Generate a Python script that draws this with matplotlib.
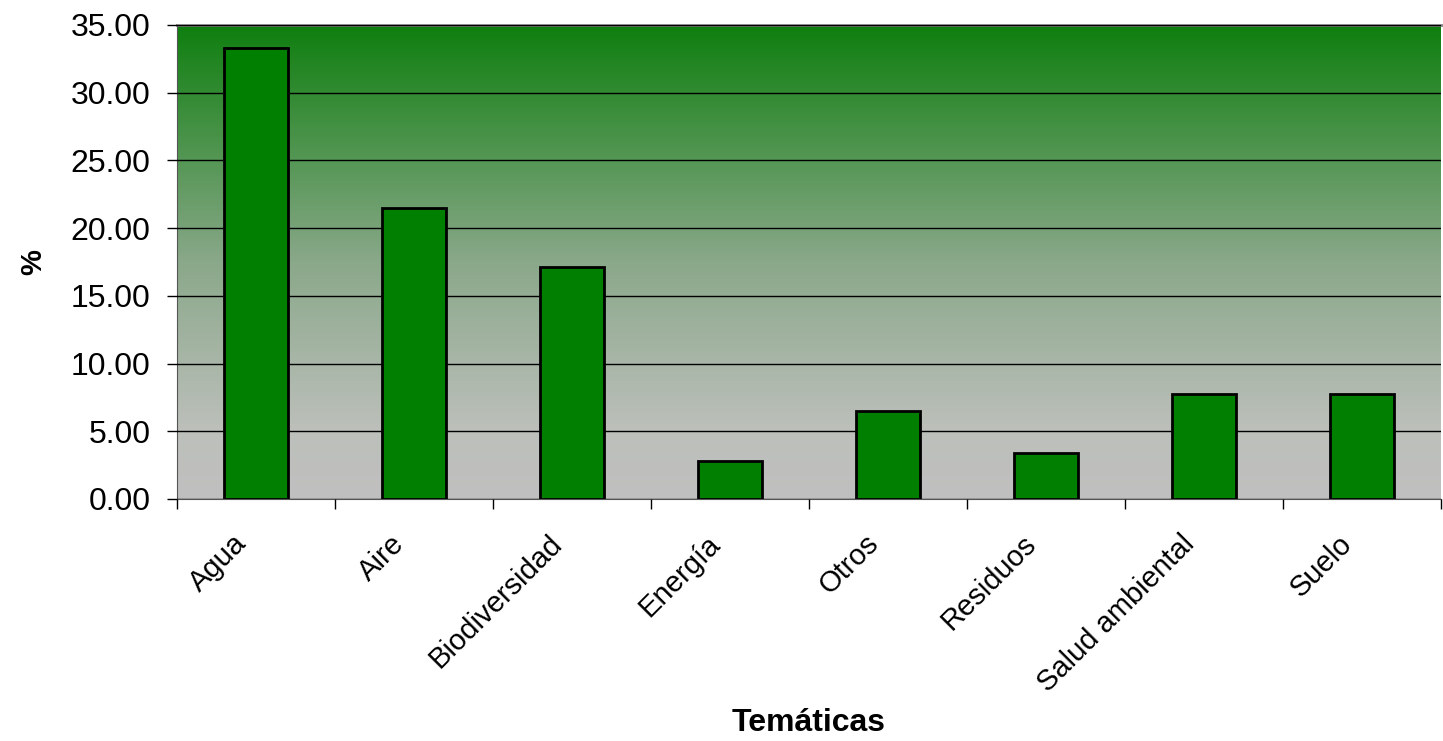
import numpy as np
import matplotlib.pyplot as plt
from matplotlib.colors import LinearSegmentedColormap

categorias = ["Agua", "Aire", "Biodiversidad", "Energía", "Otros",
              "Residuos", "Salud ambiental", "Suelo"]
valores = [33.3, 21.5, 17.1, 2.8, 6.5, 3.4, 7.75, 7.75]

plt.rcParams['font.family'] = ['Liberation Sans', 'DejaVu Sans']

fig = plt.figure(figsize=(14.43, 7.41), dpi=100)
ax = fig.add_axes([177 / 1443, 1 - 499 / 741, 1264 / 1443, 474 / 741])

# fondo degradado verde -> gris
cmap = LinearSegmentedColormap.from_list(
    "fondo", [(0.0, "#c0c0c0"), (0.15, "#bcbfba"), (0.5, "#8aa88a"), (1.0, "#0f7f0f")])
grad = np.linspace(0, 1, 256).reshape(-1, 1)
ax.imshow(grad, aspect="auto", cmap=cmap, origin="lower",
          extent=[-0.5, len(categorias) - 0.5, 0, 35], zorder=0)

x = np.arange(len(categorias))
ax.bar(x, valores, width=0.4, color="#007f00", edgecolor="black", linewidth=2, zorder=3)

ax.set_xlim(-0.5, len(categorias) - 0.5)
ax.set_ylim(0, 35)
ax.set_yticks(np.arange(0, 36, 5))
ax.set_yticklabels([f"{v:.2f}" for v in np.arange(0, 36, 5)], fontsize=23)
ax.yaxis.grid(True, color="black", linewidth=1, zorder=1)
ax.set_axisbelow(False)

ax.set_xticks(np.arange(-0.5, len(categorias)), minor=False)
ax.set_xticklabels([])
# etiquetas un poco a la izquierda del centro de la barra (como en Excel)
ax.set_xticks(x - 0.15, minor=True)
ax.set_xticklabels(categorias, minor=True, rotation=45, ha="right", va="top",
                   rotation_mode="anchor", fontsize=21)
ax.tick_params(axis="x", which="minor", length=0, pad=22)
ax.tick_params(axis="x", which="major", length=7, width=1, direction="out")
ax.tick_params(axis="y", length=7, width=1, direction="out", pad=12)

ax.spines["right"].set_visible(False)
ax.spines["top"].set_color("#808080")
ax.spines["top"].set_linewidth(2)
ax.spines["left"].set_color("#555555")
ax.spines["bottom"].set_color("#555555")

ax.set_xlabel("Temáticas", fontsize=23, fontweight="bold")
ax.xaxis.set_label_coords(0.5, -0.44)
ax.set_ylabel("%", fontsize=21, fontweight="bold")
ax.yaxis.set_label_coords(-0.103, 0.5)

fig.savefig("out.png", dpi=100)
